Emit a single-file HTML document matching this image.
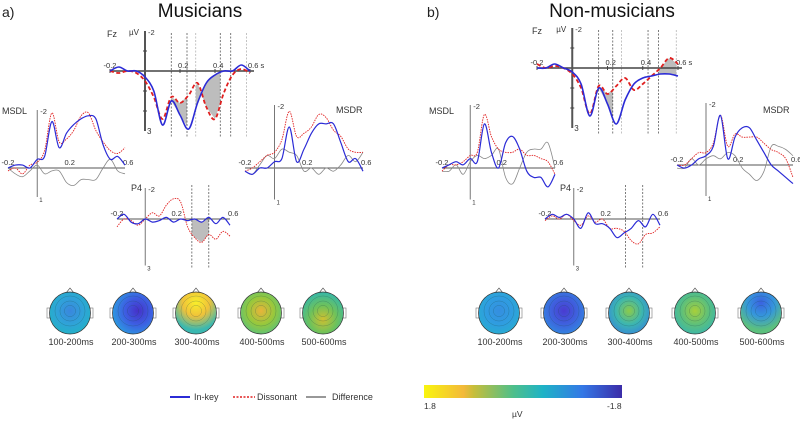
<!DOCTYPE html>
<html><head><meta charset="utf-8"><style>
body{margin:0;background:#fff;width:800px;height:420px;overflow:hidden}
svg{font-family:"Liberation Sans","DejaVu Sans",sans-serif}
</style></head><body>
<svg id="fig" width="800" height="420" viewBox="0 0 800 420">
<text x="2" y="17" font-size="14" fill="#222">a)</text>
<text x="200" y="17" font-size="19" fill="#111" text-anchor="middle">Musicians</text>
<text x="427" y="17" font-size="14" fill="#222">b)</text>
<text x="612" y="17" font-size="19" fill="#111" text-anchor="middle">Non-musicians</text>
<g id="plots"></g>
<g id="heads"></g>
<g>
<line x1="170" y1="397" x2="190" y2="397" stroke="#2b2bd6" stroke-width="2"/>
<text x="194" y="400" font-size="9" fill="#333">In-key</text>
<line x1="233" y1="397" x2="255" y2="397" stroke="#e02020" stroke-width="1.5" stroke-dasharray="2,1.5"/>
<text x="257" y="400" font-size="9" fill="#333">Dissonant</text>
<line x1="306" y1="397" x2="326" y2="397" stroke="#777" stroke-width="1.5"/>
<text x="332" y="400" font-size="9" fill="#333">Difference</text>
</g>
<defs>
<linearGradient id="parula" x1="0" x2="1" y1="0" y2="0">
<stop offset="0" stop-color="#f9f50e"/><stop offset="0.2" stop-color="#f3b93a"/><stop offset="0.25" stop-color="#c7be3a"/><stop offset="0.45" stop-color="#4ebf8a"/><stop offset="0.6" stop-color="#1eb3c6"/><stop offset="0.8" stop-color="#3478e6"/><stop offset="1" stop-color="#3b2ca8"/>
</linearGradient>
</defs>
<rect x="424" y="385" width="198" height="13" fill="url(#parula)"/>
<text x="424" y="409" font-size="8.5" fill="#333">1.8</text>
<text x="607" y="409" font-size="8.5" fill="#333">-1.8</text>
<text x="512" y="417" font-size="8.5" fill="#333">µV</text>
</svg>
<script>
// time samples (s)
const times=[-0.2,-0.15,-0.1,-0.05,0,0.05,0.1,0.15,0.2,0.25,0.3,0.35,0.4,0.45,0.5,0.55,0.6];
// Musicians
const musFzInkey=[0,-0.2,0,0,0.3,1.0,2.7,1.5,2.2,2.9,1.6,0.6,0.2,0,0,-0.3,0];
const musFzDiss=[0,0.1,0,0.1,0.5,1.3,2.4,1.3,1.6,1.2,0.6,1.8,2.4,1.1,0.2,-0.1,0.1];
const musMsdlInkey=[0,-0.1,-0.1,0,-0.3,-0.4,-1.6,-0.7,-1.2,-1.5,-1.7,-1.8,-1.7,-0.8,-0.3,-0.4,-0.1];
const musMsdlDiss=[0.1,0,0.2,-0.1,-0.2,-0.6,-1.9,-0.9,-1.0,-1.3,-1.8,-1.9,-1.3,-0.9,-0.6,-0.5,-0.7];
const musMsdlDiff=[0,0.2,0.3,0.1,-0.1,0.2,0.1,0.1,0.5,0.6,0.4,0.4,0.4,0,-0.3,0.1,0.2];
const musMsdrInkey=[0.1,0.2,0,0,-0.2,-0.3,-1.3,-0.2,-0.6,-1.1,-1.4,-1.4,-1.4,-0.8,-0.2,-0.3,0.1];
const musMsdrDiss=[0.1,0,-0.2,-0.4,-0.5,-0.9,-1.8,-1.0,-1.1,-1.3,-1.7,-1.6,-1.2,-1.0,-0.6,-0.5,-0.5];
const musMsdrDiff=[0.1,0.2,-0.1,-0.4,-0.3,-0.6,-0.5,-0.4,0.1,0,0.2,0,0.1,-0.1,-0.4,-0.2,-0.5];
const musP4Inkey=[0,-0.3,0.2,0.3,0,0.2,0.1,-0.1,0.2,0,0.1,0,0.2,-0.1,0.3,-0.1,0.4];
const musP4Diss=[0.5,0,0.1,0.4,0,-0.4,-0.2,-0.9,-1.3,-1.1,0.5,1.2,1.5,1.0,1.3,0.8,1.1];
// Non-musicians
const nonFzInkey=[0,0,-0.2,0,0.2,0.8,2.4,1.0,1.8,2.8,1.6,0.8,0.5,0.4,0.3,0.3,0.4];
const nonFzDiss=[-0.2,0,-0.1,0,0.3,1.0,2.3,0.9,1.3,0.9,0.5,1.1,0.8,0.4,0,-0.5,-0.2];
const nonMsdlInkey=[0,-0.1,-0.2,-0.1,-0.3,-0.2,-1.4,-0.5,0,-0.8,-1.0,-0.6,0.1,0.3,0.3,0.6,0.2];
const nonMsdlDiss=[0.1,-0.1,-0.1,-0.2,-0.4,-0.5,-1.7,-1.0,-0.6,-0.5,-0.5,-0.6,-0.4,-0.4,-0.3,-0.2,0.2];
const nonMsdlDiff=[0.1,0.1,-0.1,0.2,-0.2,-0.4,-0.3,-0.4,-0.6,0.3,0.5,0,-0.5,-0.6,-0.6,-0.8,0];
const nonMsdrInkey=[0,0.1,0,-0.2,-0.3,-0.6,-1.6,-0.2,-0.9,-1.2,-1.2,-0.8,-0.4,0,0.2,0.4,0.6];
const nonMsdrDiss=[0,0,-0.2,-0.4,-0.4,-0.7,-1.6,-0.6,-1.0,-0.9,-0.9,-0.9,-0.7,-0.5,-0.4,-0.2,0.4];
const nonMsdrDiff=[0.1,0.1,-0.2,0,-0.2,-0.3,-0.2,-0.4,-0.3,0.1,0.3,0.5,0.2,-0.6,-0.6,-0.5,-0.3];
const nonP4Inkey=[0,-0.3,-0.1,-0.3,0,0.6,-0.4,0.3,0.3,0.6,1.2,0.9,0.6,0.1,0.5,-0.3,0.4];
const nonP4Diss=[0.1,-0.2,0,-0.3,0.1,0.4,-0.2,0.2,0,0.6,0.6,0.8,1.4,1.6,1.0,0.9,0.5];
// analysis windows (s)
const musFzWindows=[[0.15,0.24],[0.29,0.43]];
const musFzLines=[0.15,0.24,0.29,0.43,0.49,0.58];
const musP4Windows=[[0.33,0.45]];
const nonFzWindows=[[0.15,0.23],[0.49,0.59]];
const nonFzLines=[0.15,0.23,0.28,0.43,0.49,0.59];
const nonP4Windows=[];
const nonP4Lines=[0.36,0.48];
const musP4Lines=[0.33,0.45];
const topoLabels=["100-200ms","200-300ms","300-400ms","400-500ms","500-600ms"];

const NS="http://www.w3.org/2000/svg";
const plots=document.getElementById('plots');
function mk(tag,attrs,parent){const e=document.createElementNS(NS,tag);for(const k in attrs)e.setAttribute(k,attrs[k]);(parent||plots).appendChild(e);return e;}
function smooth(pts){let d=`M${pts[0][0].toFixed(1)},${pts[0][1].toFixed(1)}`;for(let i=0;i<pts.length-1;i++){const p0=pts[i-1]||pts[i],p1=pts[i],p2=pts[i+1],p3=pts[i+2]||p2;const c1=[p1[0]+(p2[0]-p0[0])/6,p1[1]+(p2[1]-p0[1])/6],c2=[p2[0]-(p3[0]-p1[0])/6,p2[1]-(p3[1]-p1[1])/6];d+=`C${c1[0].toFixed(1)},${c1[1].toFixed(1)} ${c2[0].toFixed(1)},${c2[1].toFixed(1)} ${p2[0].toFixed(1)},${p2[1].toFixed(1)}`;}return d;}
function interp(arr,t){const f=(t-times[0])/(times[1]-times[0]);const i=Math.max(0,Math.min(arr.length-2,Math.floor(f)));const r=f-i;return arr[i]*(1-r)+arr[i+1]*r;}

function panel(o){
  const g=mk('g',{});
  
  
  const X=t=>o.x0+(t+0.2)/0.8*(o.x1-o.x0);
  const Y=v=>o.y0+v*o.sc;
  (o.windows||[]).forEach(w=>{
    const top=[],bot=[];
    for(let t=w[0];t<=w[1]+1e-6;t+=0.005){top.push([X(t),Y(interp(o.a,t))]);bot.unshift([X(t),Y(interp(o.b,t))]);}
    const p=mk('polygon',{points:top.concat(bot).map(p=>p.join(',')).join(' '),fill:'#bdbdbd'},g);
    
    
  });
  (o.lines||[]).forEach((t,i)=>{
    const l=mk('line',{x1:X(t),x2:X(t),y1:o.lt,y2:o.lb,stroke:i%3==2?'#aaa':'#444','stroke-width':0.7,'stroke-dasharray':'2,1.5'},g);
    
    
  });
  const ax=mk('line',{x1:X(-0.2),x2:X(0.6)+(o.fz?4:0),y1:o.y0,y2:o.y0,stroke:o.fz?'#444':'#555','stroke-width':o.fz?1.6:1},g);
  
  
  const ay=mk('line',{x1:X(0),x2:X(0),y1:Y(-2),y2:Y(o.ybot),stroke:o.fz?'#555':'#777','stroke-width':o.fz?2:1},g);
  
  
  const fs=7.5;
  const xt=o.fz?[-0.2,0.2,0.4,0.6]:[-0.2,0.2,0.6];
  xt.forEach(t=>{
    const s=(t===-0.2?'-0.2':t.toFixed(1))+(o.fz&&t===0.6?' s':'');
    const tx=mk('text',{x:X(t)-(t===-0.2?0:2),y:o.y0-3,'font-size':fs,fill:'#333','text-anchor':t===-0.2?'middle':'start'},g);tx.textContent=s;
    
    
    if(o.fz){mk('line',{x1:X(t),x2:X(t),y1:o.y0-2,y2:o.y0+2,stroke:'#444'},g);}
  });
  if(o.fz){[-1,1,2].forEach(v=>mk('line',{x1:X(0)-2,x2:X(0)+2,y1:Y(v),y2:Y(v),stroke:'#444'},g));}
  const t1=mk('text',{x:X(0)+3,y:Y(-2)+4,'font-size':fs,fill:'#333'},g);t1.textContent='-2';
  
  
  const t2=mk('text',{x:X(0)+2,y:Y(o.ybot)+(o.fz?3:5),'font-size':o.fz?8:6,fill:'#333'},g);t2.textContent=String(o.ybot);
  
  
  const lb=mk('text',{x:o.lx,y:o.ly,'font-size':9,fill:'#333'},g);lb.textContent=o.label;
  
  
  if(o.fz){const u=mk('text',{x:X(0)-16,y:Y(-2)+4,'font-size':8,fill:'#333'},g);u.textContent='µV';
    
    }
  const draw=(arr,st,nm)=>{const p=mk('path',Object.assign({d:smooth(arr.map((v,i)=>[X(times[i]),Y(v)])),fill:'none'},st),g);
    
    };
  if(o.c)draw(o.c,{stroke:'#888','stroke-width':0.8},'difference-line');
  draw(o.b,{stroke:'#e02020','stroke-width':o.fz?1.8:0.9,'stroke-dasharray':o.fz?'4,2.5':'1.5,1'},'dissonant-line');
  draw(o.a,{stroke:'#2b2bd6','stroke-width':o.fz?1.6:1.2},'inkey-line');
}
panel({name:'musicians-fz',fz:true,x0:110,x1:250,y0:71,sc:20,ybot:3,a:musFzInkey,b:musFzDiss,windows:musFzWindows,lines:musFzLines,lt:33,lb:137,label:'Fz',lx:107,ly:37});
panel({name:'musicians-msdl',x0:8,x1:125,y0:168,sc:29,ybot:1,a:musMsdlInkey,b:musMsdlDiss,c:musMsdlDiff,label:'MSDL',lx:2,ly:114});
panel({name:'musicians-msdr',x0:245,x1:363,y0:168,sc:31.5,ybot:1,a:musMsdrInkey,b:musMsdrDiss,c:musMsdrDiff,label:'MSDR',lx:336,ly:113});
panel({name:'musicians-p4',x0:117,x1:230,y0:219,sc:15.5,ybot:3,a:musP4Inkey,b:musP4Diss,windows:musP4Windows,lines:musP4Lines,lt:185,lb:268,label:'P4',lx:131,ly:191});
panel({name:'non-musicians-fz',fz:true,x0:537,x1:678,y0:68,sc:20,ybot:3,a:nonFzInkey,b:nonFzDiss,windows:nonFzWindows,lines:nonFzLines,lt:30,lb:135,label:'Fz',lx:532,ly:34});
panel({name:'non-musicians-msdl',x0:442,x1:555,y0:168,sc:31.5,ybot:1,a:nonMsdlInkey,b:nonMsdlDiss,c:nonMsdlDiff,label:'MSDL',lx:429,ly:114});
panel({name:'non-musicians-msdr',x0:677,x1:793,y0:165,sc:31,ybot:1,a:nonMsdrInkey,b:nonMsdrDiss,c:nonMsdrDiff,label:'MSDR',lx:763,ly:113});
panel({name:'non-musicians-p4',x0:545,x1:660,y0:219,sc:15.5,ybot:3,a:nonP4Inkey,b:nonP4Diss,windows:nonP4Windows,lines:nonP4Lines,lt:185,lb:268,label:'P4',lx:560,ly:191});

// topomaps
const heads=document.getElementById('heads');
const headColors=[
 ['#3a86de','#2fa3d8','#1fb6c0'],['#4630c8','#3d5ee2','#2b9de0'],['#f8ef2a','#f0c23a','#3ab8b0'],
 ['#e8b43a','#96c83c','#4cc08a'],['#d0c030','#6fc25a','#35b7a8'],
 ['#358ee0','#2f9de0','#26b1cc'],['#4a3bd0','#3e62de','#2e92e0'],['#8cca4a','#3cb6b0','#3480e0'],
 ['#a8cf3a','#5ec07a','#30b4b8'],['#3a62e0','#3596dc','#5cc07e']];
const headX=[70,133,196,261,323,499,564,629,695,761];
const HY=313;
const dg=mk('defs',{},heads);
headX.forEach((x,i)=>{
  const gr=mk('radialGradient',{id:'hg'+i,cx:(i==1?'62%':'50%'),cy:(i==2||i==9)?'25%':(i==4?'65%':'45%'),r:'65%'},dg);
  headColors[i].forEach((c,j)=>mk('stop',{offset:j/2,'stop-color':c},gr));
  const g=mk('g',{},heads);
  
  
  mk('path',{d:`M${x-4},${HY-20} L${x},${HY-25} L${x+4},${HY-20}`,fill:'#fff',stroke:'#555','stroke-width':0.7},g);
  mk('rect',{x:x-23,y:HY-5,width:3,height:10,fill:'#fff',stroke:'#777','stroke-width':0.6},g);
  mk('rect',{x:x+20,y:HY-5,width:3,height:10,fill:'#fff',stroke:'#777','stroke-width':0.6},g);
  mk('ellipse',{cx:x,cy:HY,rx:20.5,ry:21,fill:`url(#hg${i})`,stroke:'#333','stroke-width':0.7},g);
  [0.75,0.5,0.28].forEach(k=>mk('ellipse',{cx:x,cy:HY-2,rx:20*k,ry:20*k,fill:'none',stroke:'#1a4a4a','stroke-width':0.35,opacity:0.55},g));
  const t=mk('text',{x:x+1,y:345,'font-size':9,fill:'#333','text-anchor':'middle'},g);t.textContent=topoLabels[i%5];
});
</script>
</body></html>
